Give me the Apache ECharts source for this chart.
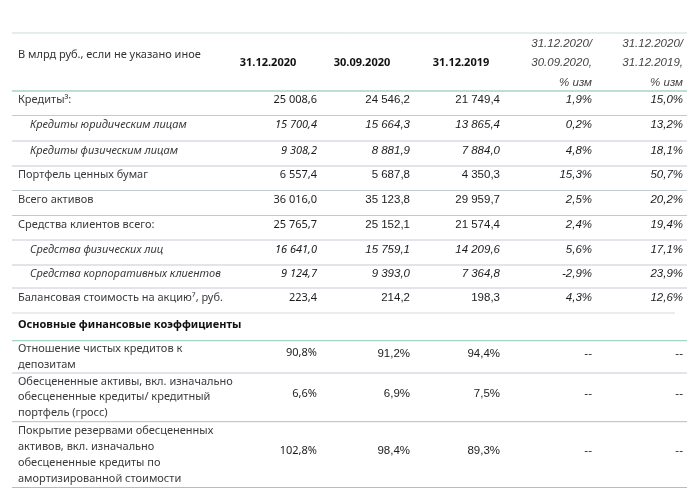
<!DOCTYPE html>
<html><head><meta charset="utf-8">
<script src="https://cdn.jsdelivr.net/npm/echarts@6/dist/echarts.min.js"></script>
<style>html,body{margin:0;background:#fff}#c{width:700px;height:488px}</style>
</head><body><div id="c"></div>
<script>
// ---------- DATA ----------
const headerLabel = 'В млрд руб., если не указано иное';
const columnHeaders = ['31.12.2020', '30.09.2020', '31.12.2019', '31.12.2020/\n30.09.2020,\n% изм', '31.12.2020/\n31.12.2019,\n% изм'];
const rowLabels = [
  'Кредиты³:',
  'Кредиты юридическим лицам',
  'Кредиты физическим лицам',
  'Портфель ценных бумаг',
  'Всего активов',
  'Средства клиентов всего:',
  'Средства физических лиц',
  'Средства корпоративных клиентов',
  'Балансовая стоимость на акцию⁷, руб.',
  'Основные финансовые коэффициенты',
  'Отношение чистых кредитов к\nдепозитам',
  'Обесцененные активы, вкл. изначально\nобесцененные кредиты/ кредитный\nпортфель (гросс)',
  'Покрытие резервами обесцененных\nактивов, вкл. изначально\nобесцененные кредиты по\nамортизированной стоимости'
];
// row kind: 'main' | 'sub' (italic, indented) | 'section' | 'ratio' (values in %)
const rowKinds = ['main', 'sub', 'sub', 'main', 'main', 'main', 'sub', 'sub', 'main', 'section', 'ratio', 'ratio', 'ratio'];
const values_31_12_2020 = [25008.6, 15700.4, 9308.2, 6557.4, 36016.0, 25765.7, 16641.0, 9124.7, 223.4, null, 90.8, 6.6, 102.8];
const values_30_09_2020 = [24546.2, 15664.3, 8881.9, 5687.8, 35123.8, 25152.1, 15759.1, 9393.0, 214.2, null, 91.2, 6.9, 98.4];
const values_31_12_2019 = [21749.4, 13865.4, 7884.0, 4350.3, 29959.7, 21574.4, 14209.6, 7364.8, 198.3, null, 94.4, 7.5, 89.3];
const change_q = [1.9, 0.2, 4.8, 15.3, 2.5, 2.4, 5.6, -2.9, 4.3, null, '--', '--', '--'];
const change_y = [15.0, 13.2, 18.1, 50.7, 20.2, 19.4, 17.1, 23.9, 12.6, null, '--', '--', '--'];

// ---------- LAYOUT ----------
const W = 700, H = 488;
const tableTop = 33, headerBottom = 91;
const rowHeights = [24.5, 25.5, 25, 24.5, 25, 24.5, 25, 23, 25, 27.7, 32.3, 48.7, 66];
const colRight = [317, 410, 500, 592, 683];
const headerCenterX = [268, 362, 461];
const labelX = 18, subLabelX = 30;
const ruleLeft = 12, ruleRight = 687;
const LBL = '"Noto Sans", sans-serif';
const NUM = '"Liberation Sans", sans-serif';

// row boundaries
const bounds = [headerBottom];
rowHeights.forEach(h => bounds.push(bounds[bounds.length - 1] + h));
const rules = [tableTop].concat(bounds);
const ruleStyle = rules.map((y, i) => {
  if (i === 0) return { c: '#c6dcda', w: 1, r: ruleRight };
  if (i === 1) return { c: '#a6d4c7', w: 1.5, r: ruleRight };
  if (i === 10) return { c: '#d5d8dd', w: 1, r: 675 };
  if (i === 11) return { c: '#a6d4c7', w: 1.2, r: ruleRight };
  if (i === rules.length - 1) return { c: '#9ccbbd', w: 1.5, r: ruleRight };
  return { c: '#c3c9d3', w: 1.2, r: ruleRight };
});

function fmtNum(v) {
  const s = v.toFixed(1).split('.');
  return s[0].replace(/\B(?=(\d{3})+(?!\d))/g, ' ') + ',' + s[1];
}
function fmtPct(v) { return typeof v === 'string' ? v : v.toFixed(1).replace('.', ',') + '%'; }

// ---------- CELLS ----------
const cells = []; // [x, y, text, font, align, fill, lineHeight]
cells.push([labelX, 55, headerLabel, '11px ' + LBL, 'left', '#333', 14]);
columnHeaders.forEach((t, c) => {
  if (c < 3) cells.push([headerCenterX[c], 63, t, 'bold 11px ' + LBL, 'center', '#111', 14]);
  else cells.push([colRight[c], 63, t, 'italic 11.5px ' + NUM, 'right', '#444', 19.5]);
});
const cols = [values_31_12_2020, values_30_09_2020, values_31_12_2019, change_q, change_y];
rowLabels.forEach((lab, r) => {
  const top = bounds[r], bot = bounds[r + 1];
  const mid = (top + bot) / 2;
  const kind = rowKinds[r];
  const multi = lab.indexOf('\n') >= 0;
  const ly = multi ? mid : mid - 3;
  if (kind === 'section') {
    cells.push([labelX, mid - 1.5, lab, 'bold 11px ' + LBL, 'left', '#111', 15.7]);
    return;
  }
  const italic = kind === 'sub';
  cells.push([italic ? subLabelX : labelX, ly, lab, (italic ? 'italic ' : '') + '11px ' + LBL, 'left', '#3a3a3a', 15.8]);
  const vy = multi ? mid - 3.5 : mid - 3;
  cols.forEach((arr, c) => {
    const v = arr[r];
    if (v === null || v === undefined) return;
    let text, font;
    if (c < 3) text = kind === 'ratio' ? fmtPct(v) : fmtNum(v);
    else text = fmtPct(v);
    const it = italic || (c >= 3 && typeof v !== 'string');
    const fam = c === 0 ? LBL : NUM;
    const size = c === 0 ? '11px ' : '11.5px ';
    font = (it ? 'italic ' : '') + size + fam;
    cells.push([colRight[c], vy, text, font, 'right', '#1c1c1c', 14]);
  });
});

const chart = echarts.init(document.getElementById('c'), null, { renderer: 'canvas' });
chart.setOption({
  animation: false,
  backgroundColor: '#fff',
  grid: { left: 0, right: 0, top: 0, bottom: 0 },
  xAxis: { type: 'value', min: 0, max: W, show: false },
  yAxis: { type: 'value', min: 0, max: H, inverse: true, show: false },
  series: [
    {
      type: 'custom',
      coordinateSystem: 'cartesian2d',
      data: rules.map((y, i) => [i, y]),
      renderItem: (params, api) => {
        const i = api.value(0);
        const st = ruleStyle[i];
        const p1 = api.coord([ruleLeft, api.value(1)]);
        const p2 = api.coord([st.r, api.value(1)]);
        return { type: 'line', shape: { x1: p1[0], y1: p1[1], x2: p2[0], y2: p2[1] }, style: { stroke: st.c, lineWidth: st.w } };
      }
    },
    {
      type: 'custom',
      coordinateSystem: 'cartesian2d',
      data: cells.map((c, i) => [c[0], c[1], i]),
      renderItem: (params, api) => {
        const cell = cells[api.value(2)];
        const p = api.coord([api.value(0), api.value(1)]);
        return {
          type: 'text', x: p[0], y: p[1],
          style: { text: cell[2], font: cell[3], align: cell[4], verticalAlign: 'middle', fill: cell[5], lineHeight: cell[6] }
        };
      }
    }
  ]
});
</script>
</body></html>
